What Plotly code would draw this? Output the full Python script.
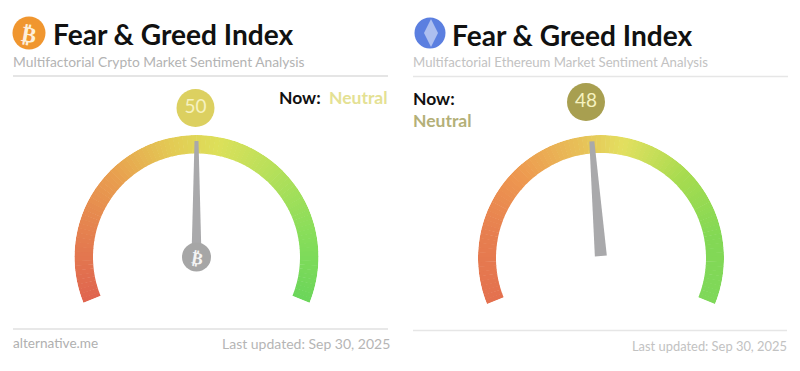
import math
import plotly.graph_objects as go

W, H = 800, 371
FONT = "Lato"

# data
gauge_names = ["Crypto", "Ethereum"]
index_values = [50, 48]
score_labels = ["50", "48"]
state_labels = ["Neutral", "Neutral"]
subtitles = ["Multifactorial Crypto Market Sentiment Analysis",
             "Multifactorial Ethereum Market Sentiment Analysis"]
updated_label = "Last updated: Sep 30, 2025"
site_label = "alternative.me"
title_label = "Fear & Greed Index"
stop_values = [0, 15, 30, 45, 55, 70, 85, 100]
left_stop_colors = ["#e0654f", "#e5804f", "#e9a04f", "#e3cd55", "#dde05a", "#b2e05a", "#88de5a", "#6cd65a"]
right_stop_colors = ["#e4714f", "#e77f50", "#ee9850", "#e8c058", "#e3e060", "#a8dc50", "#84d955", "#7fd85a"]

# layout geometry in pixels
START, SWEEP = 202.0, 224.0
GAUGES = [
    dict(cx=196.5, cy=257, R=122, r=103.5, stops=left_stop_colors, tip=116, base=0, bw=5.0, tw=2.0),
    dict(cx=601, cy=258, R=123, r=105, stops=right_stop_colors, tip=117, base=2, bw=6.0, tw=2.5),
]
BUBBLES = [(195.5, 108, "#dcd060"), (586, 102, "#a89f50")]


def hex_rgb(c):
    return [int(c[i:i + 2], 16) for i in (1, 3, 5)]


def colour_at(v, colours):
    for i in range(len(stop_values) - 1):
        a, b = stop_values[i], stop_values[i + 1]
        if a <= v <= b:
            t = (v - a) / (b - a)
            ca, cb = hex_rgb(colours[i]), hex_rgb(colours[i + 1])
            return "rgb(%d,%d,%d)" % tuple(ca[k] + (cb[k] - ca[k]) * t for k in range(3))
    return colours[-1]


def to_theta(v):
    return v * SWEEP / 100


fig = go.Figure()
STEP = 1
levels = list(range(0, 100, STEP))

for i, g in enumerate(GAUGES):
    sp = "polar" if i == 0 else "polar2"
    fig.add_trace(go.Barpolar(
        subplot=sp,
        theta=[to_theta(v + STEP / 2) for v in levels],
        width=[SWEEP * STEP / 100 + 0.25 for _ in levels],
        base=[g["r"] for _ in levels],
        r=[g["R"] - g["r"] for _ in levels],
        marker=dict(color=[colour_at(v + STEP / 2, g["stops"]) for v in levels], line=dict(width=0)),
        hoverinfo="skip", showlegend=False,
    ))
    th = to_theta(index_values[i])
    rs, ts = [], []
    for l, w in ((g["tip"], -g["tw"]), (g["tip"], g["tw"]), (g["base"], g["bw"]), (g["base"], -g["bw"])):
        rs.append(math.hypot(l, w))
        ts.append(th + math.degrees(math.atan2(w, l)))
    fig.add_trace(go.Scatterpolar(
        subplot=sp, r=rs + rs[:1], theta=ts + ts[:1], mode="lines", fill="toself",
        fillcolor="#a9a9ab", line=dict(width=0, color="#a9a9ab"),
        hoverinfo="skip", showlegend=False,
    ))
fig.add_trace(go.Scatterpolar(
    subplot="polar", r=[0], theta=[0], mode="markers",
    marker=dict(size=29, color="#a6a6a6", line=dict(width=0)),
    hoverinfo="skip", showlegend=False,
))

# overlay circles
fig.add_trace(go.Scatter(
    x=[29, 430], y=[33, 33], mode="markers",
    marker=dict(size=[33, 31], color=["#f0962f", "#5b7fe0"], opacity=1, line=dict(width=0)),
    hoverinfo="skip", showlegend=False,
))
fig.add_trace(go.Scatter(
    x=[431], y=[33], mode="markers",
    marker=dict(size=20, symbol="diamond-tall", color="rgba(255,255,255,0.5)", opacity=1, line=dict(width=0)),
    hoverinfo="skip", showlegend=False,
))
for i, (bx, by, col) in enumerate(BUBBLES):
    fig.add_trace(go.Scatter(
        x=[bx], y=[by], mode="markers+text", text=[score_labels[i]], textposition="middle center",
        textfont=dict(family=FONT, size=19, color="#f6f2c0"),
        marker=dict(size=38, color=col, line=dict(width=0)),
        hoverinfo="skip", showlegend=False,
    ))


def note(x, y, text, size, color, anchor="left", bold=False, angle=0):
    fig.add_annotation(
        x=x, y=y, xref="x", yref="y", text=f"<b>{text}</b>" if bold else text, showarrow=False,
        xanchor=anchor, yanchor="middle", align=anchor, textangle=angle,
        font=dict(family=FONT, size=size, color=color), borderpad=0, borderwidth=0,
    )


note(52.5, 34, title_label, 28.1, "#111111", bold=True)
note(451.5, 35, title_label, 28.1, "#111111", bold=True)
note(12.5, 61, subtitles[0], 13.8, "#b3b3b3")
note(412.5, 61.5, subtitles[1], 13.2, "#c2c2c2")
note(279, 97, "Now:", 17.5, "#111111", bold=True)
note(388, 97, state_labels[0], 17.5, "#e4e193", anchor="right", bold=True)
note(412.5, 98, "Now:", 17.5, "#111111", bold=True)
note(412.5, 120, state_labels[1], 17.5, "#b4b078", bold=True)
note(12.5, 343, site_label, 13.6, "#b0b0b0")
note(390, 343, updated_label, 14, "#b5b5b5", anchor="right")
note(787, 346, updated_label, 12.9, "#c2c2c2", anchor="right")
note(29, 33, "₿", 22, "#fdf0dc", anchor="center", bold=True, angle=10)
note(197, 257, "₿", 17, "#f4f4f4", anchor="center", bold=True, angle=10)

shapes = []
for x0, x1, y, c in ((13, 388, 76, "#dcdcdc"), (413, 788, 76.5, "#e6e6e6"),
                     (13, 388, 329, "#e0e0e0"), (413, 787, 330.5, "#e6e6e6")):
    shapes.append(dict(type="line", xref="x", yref="y", x0=x0, x1=x1, y0=y, y1=y,
                       line=dict(color=c, width=1.4), layer="below"))


def polar_layout(g):
    bottom = g["cy"] + g["R"] * math.sin(math.radians(START - 180))
    return dict(
        domain=dict(x=[(g["cx"] - g["R"]) / W, (g["cx"] + g["R"]) / W],
                    y=[1 - bottom / H, 1 - (g["cy"] - g["R"]) / H]),
        sector=[180 - START, START],
        bgcolor="rgba(0,0,0,0)",
        barmode="overlay",
        angularaxis=dict(visible=False, rotation=START, direction="clockwise", thetaunit="degrees"),
        radialaxis=dict(visible=False, range=[0, g["R"]]),
    )


fig.update_layout(
    width=W, height=H, margin=dict(l=0, r=0, t=0, b=0), autosize=False,
    paper_bgcolor="#ffffff", plot_bgcolor="rgba(0,0,0,0)", showlegend=False,
    xaxis=dict(range=[0, W], visible=False, fixedrange=True),
    yaxis=dict(range=[H, 0], visible=False, fixedrange=True),
    polar=polar_layout(GAUGES[0]), polar2=polar_layout(GAUGES[1]),
    shapes=shapes,
)
fig.write_html("out.html", config=dict(displayModeBar=False),
               post_script="document.body.style.margin='0';document.body.style.overflow='hidden';")
